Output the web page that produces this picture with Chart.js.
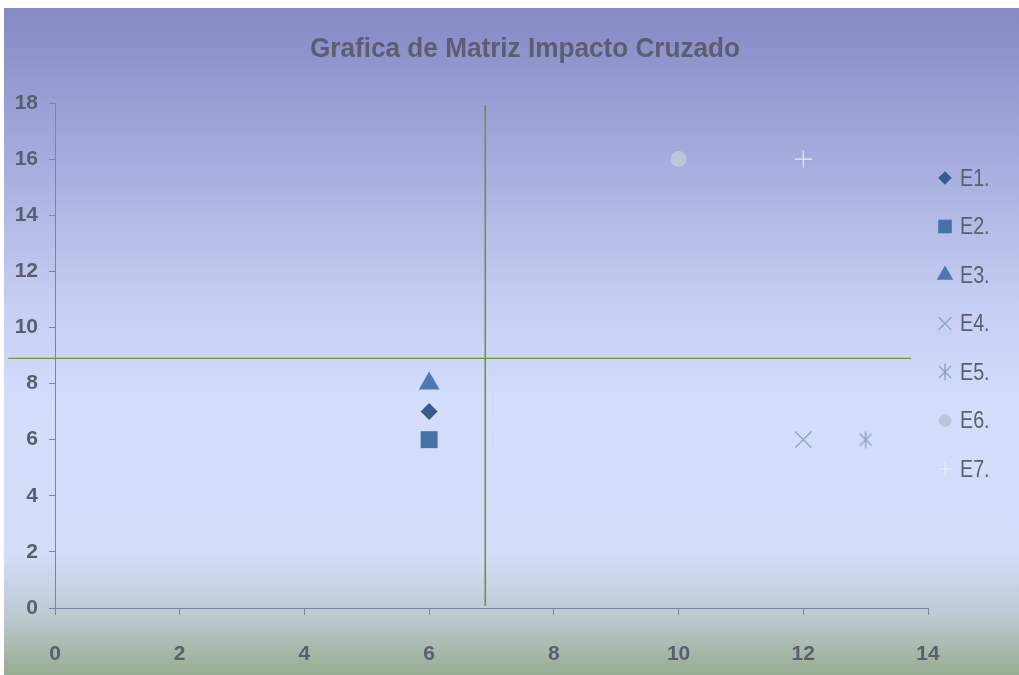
<!DOCTYPE html>
<html lang="es">
<head>
    <meta charset="UTF-8">
    <title>Grafica de Matriz Impacto Cruzado</title>
    <script src="https://cdn.jsdelivr.net/npm/chart.js"></script>
    <style>
        html, body { margin: 0; padding: 0; background: #fff; }
        .chart-container {
            position: absolute;
            left: 4px;
            top: 8px;
            width: 1015px;
            height: 667px;
        }
    </style>
</head>
<body>
    <div class="chart-container">
        <canvas id="impactChart"></canvas>
    </div>

    <script>
        // Variables of the cross impact matrix
        const seriesNames = ['E1.', 'E2.', 'E3.', 'E4.', 'E5.', 'E6.', 'E7.'];
        const influence = [6, 6, 6, 12, 13, 10, 12];   // x: motricidad
        const dependence = [7, 6, 8, 6, 6, 16, 16];    // y: dependencia

        // Quadrant dividers
        const splitX = 6.9;
        const splitY = 8.9;
        const splitXSpan = [0.07, 17.93];
        const splitYSpan = [-0.75, 13.73];

        const chartTitle = 'Grafica de Matriz Impacto Cruzado';

        // Asterisk marker (vertical bar plus an X), like the spreadsheet one
        function asteriskMarker(color) {
            const c = document.createElement('canvas');
            c.width = 20; c.height = 20;
            const g = c.getContext('2d');
            g.strokeStyle = color;
            g.lineWidth = 1.4;
            g.beginPath();
            g.moveTo(10, 1.5); g.lineTo(10, 18.5);
            g.moveTo(4, 4); g.lineTo(16, 16);
            g.moveTo(16, 4); g.lineTo(4, 16);
            g.stroke();
            return c;
        }

        // Marker styles per series
        const markerColors = ['#385b8d', '#4571a9', '#4a79b3', '#8da4d2', '#8aa1cb', '#b9c7d9', '#eef1fb'];
        const markerStyles = ['rectRot', 'rect', 'triangle', 'crossRot', asteriskMarker(markerColors[4]), 'circle', 'cross'];
        const markerSizes = [8.5, 12, 12, 11.5, 10, 8, 8.5];
        const markerLines = [0, 0, 0, 1.4, 1.4, 0, 1.1];

        const fontFamily = "'Liberation Sans', Arial, sans-serif";
        const textColor = '#5b5e6e';
        const axisColor = '#7d84a2';

        const datasets = seriesNames.map((name, i) => ({
            label: name,
            data: [{ x: influence[i], y: dependence[i] }],
            pointStyle: markerStyles[i],
            pointRadius: markerSizes[i],
            pointHoverRadius: markerSizes[i],
            backgroundColor: markerColors[i],
            borderColor: markerColors[i],
            pointBorderWidth: markerLines[i],
            showLine: false
        }));

        datasets.push({
            label: 'vertical',
            data: [{ x: splitX, y: splitXSpan[0] }, { x: splitX, y: splitXSpan[1] }],
            showLine: true,
            borderColor: '#6e9440',
            borderWidth: 1.6,
            pointRadius: 0,
            clip: false
        });
        datasets.push({
            label: 'horizontal',
            data: [{ x: splitYSpan[0], y: splitY }, { x: splitYSpan[1], y: splitY }],
            showLine: true,
            borderColor: '#6e9440',
            borderWidth: 1.3,
            pointRadius: 0,
            clip: false
        });

        // Draws narrow text by squeezing it horizontally
        function narrowText(ctx, text, x, y, font, squeeze, align) {
            ctx.save();
            ctx.font = font;
            ctx.textAlign = align;
            ctx.textBaseline = 'middle';
            ctx.translate(x, y);
            ctx.scale(squeeze, 1);
            ctx.fillText(text, 0, 0);
            ctx.restore();
        }

        // Background gradient behind the whole chart
        const backdrop = {
            id: 'backdrop',
            beforeDraw(chart) {
                const { ctx, width, height } = chart;
                const g = ctx.createLinearGradient(0, 0, 0, height);
                g.addColorStop(0, '#8589c5');
                g.addColorStop(0.45, '#c6cff4');
                g.addColorStop(0.6, '#d4defc');
                g.addColorStop(0.82, '#d3ddf8');
                g.addColorStop(0.91, '#bccad2');
                g.addColorStop(1, '#97ad90');
                ctx.save();
                ctx.fillStyle = g;
                ctx.fillRect(0, 0, width, height);
                ctx.restore();
            }
        };

        // Title and legend
        const decorations = {
            id: 'decorations',
            afterDraw(chart) {
                const ctx = chart.ctx;
                ctx.save();
                ctx.fillStyle = textColor;
                const titleFont = 'bold 27px ' + fontFamily;
                ctx.font = titleFont;
                const squeeze = Math.min(1, 430 / ctx.measureText(chartTitle).width);
                narrowText(ctx, chartTitle, 521, 42, titleFont, squeeze, 'center');

                const x0 = 941;
                const y0 = 170;
                const step = 48.5;
                seriesNames.forEach((name, i) => {
                    const y = y0 + i * step;
                    ctx.fillStyle = markerColors[i];
                    ctx.strokeStyle = markerColors[i];
                    ctx.lineWidth = markerLines[i];
                    Chart.helpers.drawPoint(ctx, {
                        pointStyle: markerStyles[i],
                        radius: markerSizes[i] * 0.8,
                        rotation: 0,
                        borderWidth: markerLines[i]
                    }, x0, y);
                    ctx.fillStyle = textColor;
                    narrowText(ctx, name, x0 + 15, y + 1, '24px ' + fontFamily, 0.82, 'left');
                });
                ctx.restore();
            }
        };

        const ctx = document.getElementById('impactChart').getContext('2d');
        const impactChart = new Chart(ctx, {
            type: 'scatter',
            data: { datasets: datasets },
            options: {
                responsive: true,
                maintainAspectRatio: false,
                animation: false,
                layout: { padding: { left: 0, right: 0, top: 95, bottom: 0 } },
                plugins: {
                    legend: { display: false },
                    tooltip: { enabled: false },
                    title: { display: false }
                },
                scales: {
                    x: {
                        type: 'linear',
                        min: 0,
                        max: 14,
                        border: { display: true, color: axisColor, width: 1 },
                        grid: { drawOnChartArea: false, drawTicks: true, tickLength: 7, color: axisColor },
                        ticks: {
                            stepSize: 2,
                            padding: 27,
                            color: textColor,
                            font: { family: fontFamily, size: 21, weight: 'bold' }
                        },
                        afterFit: (scale) => { scale.height = 67; }
                    },
                    y: {
                        type: 'linear',
                        min: 0,
                        max: 18,
                        border: { display: true, color: axisColor, width: 1 },
                        grid: { drawOnChartArea: false, drawTicks: true, tickLength: 6, color: axisColor },
                        ticks: {
                            stepSize: 2,
                            padding: 11,
                            color: textColor,
                            font: { family: fontFamily, size: 21, weight: 'bold' }
                        },
                        afterFit: (scale) => { scale.width = 51; }
                    },
                    legendSpace: {
                        type: 'linear',
                        position: 'right',
                        display: true,
                        border: { display: false },
                        grid: { display: false },
                        ticks: { display: false },
                        afterFit: (scale) => { scale.width = 91; }
                    }
                }
            },
            plugins: [backdrop, decorations]
        });
    </script>
</body>
</html>
